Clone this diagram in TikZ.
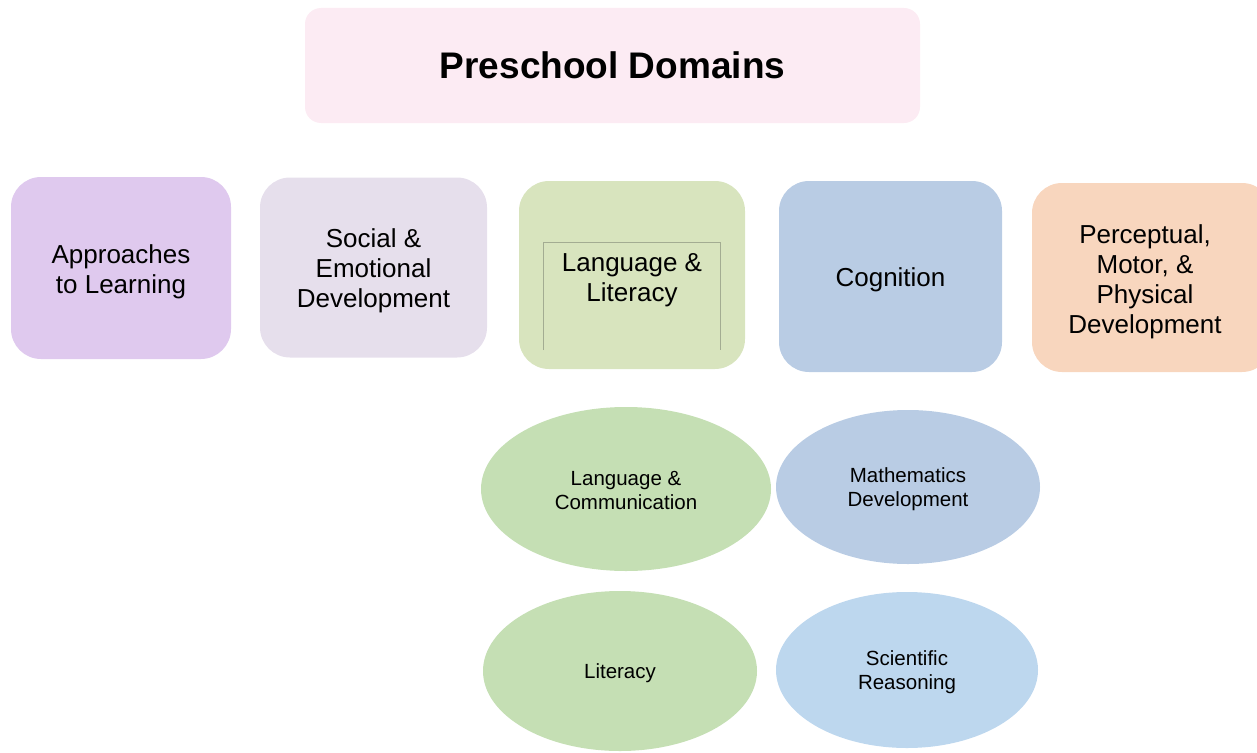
\documentclass[tikz,border=0pt]{standalone}
\usepackage{fontspec}
\setmainfont{Liberation Sans}
\usetikzlibrary{shapes.geometric}
\definecolor{titlefill}{HTML}{FCEBF3}
\definecolor{approachfill}{HTML}{DFC9EE}
\definecolor{socialfill}{HTML}{E6DFEC}
\definecolor{langfill}{HTML}{D8E4BE}
\definecolor{cogfill}{HTML}{B9CCE4}
\definecolor{percfill}{HTML}{F8D6BE}
\definecolor{greenell}{HTML}{C5DFB4}
\definecolor{blueell}{HTML}{B9CCE4}
\definecolor{sciell}{HTML}{BDD7EE}
\definecolor{innerline}{HTML}{A3AC92}
\tikzset{
  domainbox/.style={rectangle, rounded corners=30pt, draw=none, inner sep=0pt},
  boxtext/.style={align=center, inner sep=0pt, font=\fontsize{26}{30}\selectfont},
  subell/.style={ellipse, draw=none, inner sep=0pt},
  elltext/.style={align=center, inner sep=0pt, font=\fontsize{20.5}{24}\selectfont},
  plain/.style={align=center, inner sep=0pt},
}
\begin{document}
\begin{tikzpicture}[x=1pt,y=-1pt]
\useasboundingbox (0,0) rectangle (1257,752);
\clip (0,0) rectangle (1257,752);
% title
\node[rectangle, rounded corners=16pt, fill=titlefill, minimum width=615pt, minimum height=115pt,
  font=\fontsize{37}{44}\selectfont\bfseries] (title) at (612.5,65.5) {Preschool Domains};
% domain boxes
\node[domainbox, fill=approachfill, minimum width=220pt, minimum height=182pt] (appr) at (121,268) {};
\node[boxtext] (apprtxt) at (121,272) {Approaches\\to Learning};
\node[domainbox, fill=socialfill, minimum width=227pt, minimum height=180pt] (soc) at (373.5,267.5) {};
\node[boxtext] (soctxt) at (373.5,271) {Social \&\\Emotional\\Development};
\node[domainbox, fill=langfill, minimum width=226pt, minimum height=188pt] (lang) at (632,275) {};
\node[plain, minimum width=176pt, minimum height=107pt] (langin) at (632,296.5) {};
\draw[innerline, line width=0.8pt] (langin.south west) -- (langin.north west) -- (langin.north east) -- (langin.south east);
\node[boxtext, anchor=north] (langtxt) at (632,253) {Language \&\\Literacy};
\node[domainbox, fill=cogfill, minimum width=223pt, minimum height=191pt] (cog) at (890.5,276.5) {};
\node[boxtext] (cogtxt) at (890.5,280) {Cognition};
\node[domainbox, fill=percfill, minimum width=240pt, minimum height=189pt] (perc) at (1152,277.5) {};
\node[boxtext] (perctxt) at (1145,281.5) {Perceptual,\\Motor, \&\\Physical\\Development};
% ellipses
\node[subell, fill=greenell, minimum width=290pt, minimum height=164pt] (lc) at (626,489) {};
\node[elltext] (lctxt) at (626,491) {Language \&\\Communication};
\node[subell, fill=blueell, minimum width=264pt, minimum height=154pt] (math) at (908,487) {};
\node[elltext] (mathtxt) at (908,489) {Mathematics\\Development};
\node[subell, fill=greenell, minimum width=274pt, minimum height=160pt] (lit) at (620,671) {};
\node[elltext] (littxt) at (620,673) {Literacy};
\node[subell, fill=sciell, minimum width=262pt, minimum height=156pt] (sci) at (907,670) {};
\node[elltext] (scitxt) at (907,672) {Scientific\\Reasoning};
\end{tikzpicture}
\end{document}
